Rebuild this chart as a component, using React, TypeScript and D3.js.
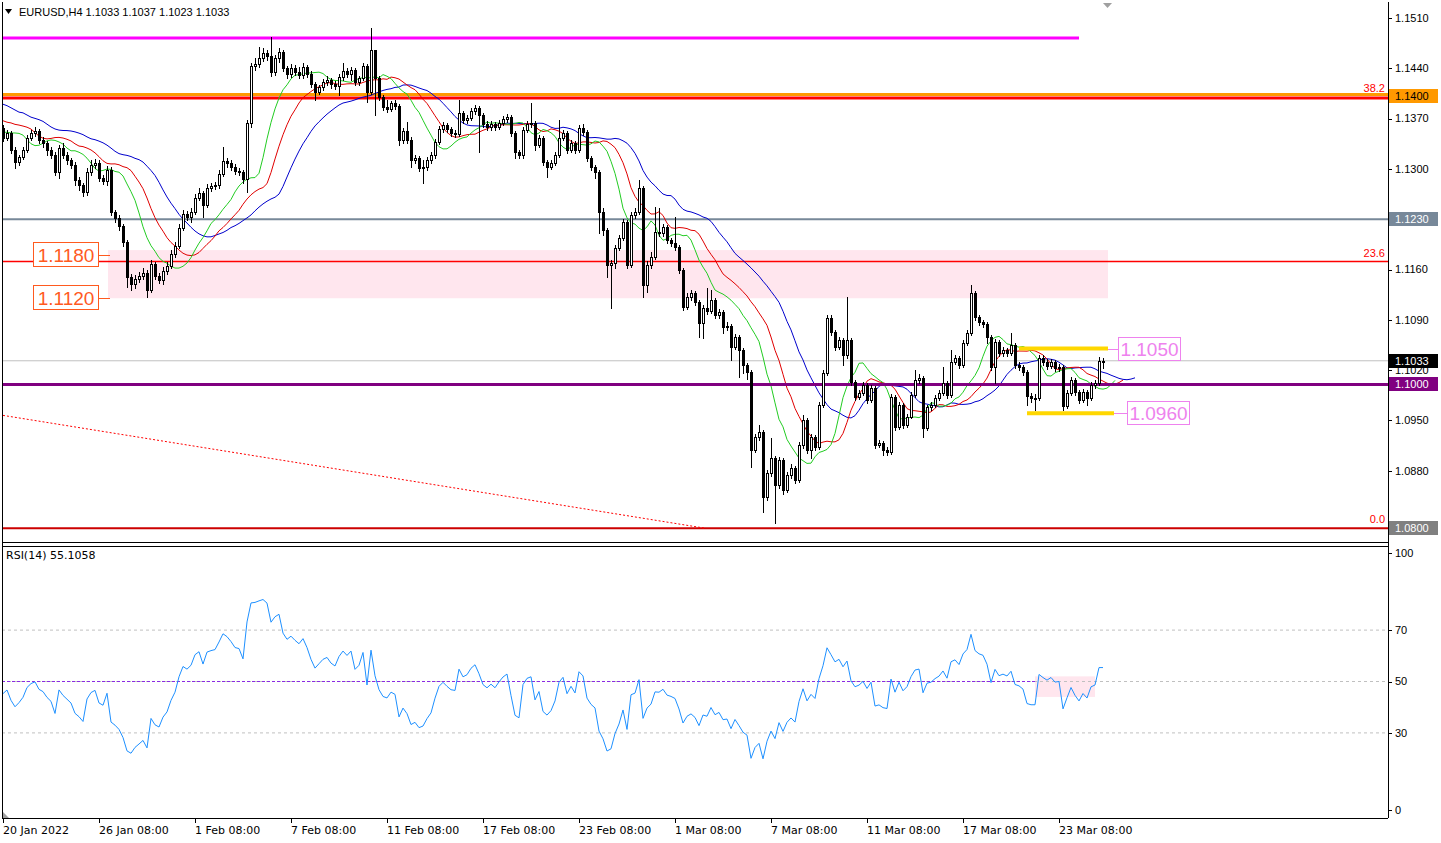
import React from "react";
import * as d3 from "d3";

type HLC = [number, number, number]; // high, low, close

const firstOpen = 1.1357;

const wk20Jan: HLC[] = [
  [1.1361, 1.1339, 1.1343], [1.1354, 1.1340, 1.1350], [1.1353, 1.1322, 1.1326], [1.1330, 1.1301, 1.1310],
  [1.1319, 1.1305, 1.1317], [1.1330, 1.1314, 1.1326], [1.1347, 1.1323, 1.1343], [1.1354, 1.1340, 1.1350],
  [1.1358, 1.1346, 1.1353], [1.1355, 1.1336, 1.1340], [1.1344, 1.1330, 1.1336], [1.1339, 1.1319, 1.1326],
  [1.1330, 1.1315, 1.1319], [1.1323, 1.1291, 1.1296], [1.1333, 1.1287, 1.1329], [1.1336, 1.1315, 1.1319],
  [1.1323, 1.1307, 1.1312], [1.1315, 1.1301, 1.1305], [1.1310, 1.1278, 1.1285], [1.1289, 1.1271, 1.1278],
  [1.1280, 1.1262, 1.1268], [1.1301, 1.1264, 1.1296], [1.1312, 1.1291, 1.1305], [1.1314, 1.1301, 1.1308],
];
const wk26Jan: HLC[] = [
  [1.1312, 1.1283, 1.1287], [1.1291, 1.1279, 1.1283], [1.1304, 1.1278, 1.1298], [1.1303, 1.1236, 1.1240],
  [1.1243, 1.1226, 1.1232], [1.1236, 1.1215, 1.1221], [1.1223, 1.1193, 1.1198], [1.1201, 1.1136, 1.1150],
  [1.1154, 1.1131, 1.1140], [1.1152, 1.1134, 1.1147], [1.1156, 1.1142, 1.1151], [1.1162, 1.1147, 1.1155],
  [1.1159, 1.1122, 1.1131], [1.1173, 1.1129, 1.1168], [1.1170, 1.1147, 1.1151], [1.1155, 1.1141, 1.1145],
  [1.1163, 1.1140, 1.1158], [1.1170, 1.1154, 1.1165], [1.1187, 1.1162, 1.1181], [1.1198, 1.1177, 1.1193],
  [1.1223, 1.1190, 1.1218], [1.1243, 1.1215, 1.1237], [1.1241, 1.1229, 1.1233], [1.1246, 1.1226, 1.1240],
];
const wk1Feb: HLC[] = [
  [1.1265, 1.1237, 1.1260], [1.1273, 1.1257, 1.1266], [1.1269, 1.1233, 1.1250], [1.1279, 1.1247, 1.1273],
  [1.1280, 1.1269, 1.1276], [1.1282, 1.1272, 1.1278], [1.1298, 1.1273, 1.1293], [1.1330, 1.1290, 1.1311],
  [1.1315, 1.1303, 1.1308], [1.1312, 1.1298, 1.1303], [1.1307, 1.1293, 1.1297], [1.1301, 1.1291, 1.1296],
  [1.1298, 1.1280, 1.1286], [1.1368, 1.1268, 1.1364], [1.1447, 1.1359, 1.1443], [1.1454, 1.1438, 1.1446],
  [1.1470, 1.1442, 1.1454], [1.1468, 1.1450, 1.1461], [1.1465, 1.1452, 1.1457], [1.1484, 1.1429, 1.1435],
  [1.1458, 1.1431, 1.1454], [1.1468, 1.1449, 1.1463], [1.1465, 1.1436, 1.1440], [1.1443, 1.1426, 1.1432],
];
const wk7Feb: HLC[] = [
  [1.1446, 1.1428, 1.1440], [1.1445, 1.1431, 1.1435], [1.1442, 1.1426, 1.1431], [1.1447, 1.1426, 1.1442],
  [1.1445, 1.1428, 1.1432], [1.1436, 1.1414, 1.1418], [1.1421, 1.1396, 1.1407], [1.1417, 1.1404, 1.1414],
  [1.1425, 1.1410, 1.1421], [1.1429, 1.1417, 1.1424], [1.1427, 1.1413, 1.1418], [1.1422, 1.1411, 1.1415],
  [1.1432, 1.1403, 1.1428], [1.1447, 1.1424, 1.1436], [1.1440, 1.1428, 1.1432], [1.1442, 1.1424, 1.1438],
  [1.1440, 1.1417, 1.1421], [1.1429, 1.1417, 1.1426], [1.1447, 1.1424, 1.1443], [1.1446, 1.1393, 1.1407],
  [1.1496, 1.1404, 1.1465], [1.1465, 1.1375, 1.1426], [1.1429, 1.1396, 1.1400], [1.1403, 1.1382, 1.1386],
];
const wk11Feb: HLC[] = [
  [1.1396, 1.1379, 1.1383], [1.1394, 1.1381, 1.1392], [1.1396, 1.1383, 1.1388], [1.1390, 1.1333, 1.1340],
  [1.1357, 1.1336, 1.1353], [1.1365, 1.1336, 1.1340], [1.1344, 1.1303, 1.1312], [1.1319, 1.1308, 1.1315],
  [1.1318, 1.1297, 1.1301], [1.1312, 1.1280, 1.1303], [1.1317, 1.1298, 1.1312], [1.1323, 1.1308, 1.1319],
  [1.1342, 1.1315, 1.1338], [1.1360, 1.1335, 1.1355], [1.1365, 1.1351, 1.1361], [1.1364, 1.1351, 1.1355],
  [1.1358, 1.1346, 1.1350], [1.1354, 1.1344, 1.1349], [1.1396, 1.1346, 1.1378], [1.1380, 1.1364, 1.1368],
  [1.1375, 1.1364, 1.1371], [1.1385, 1.1368, 1.1380], [1.1389, 1.1376, 1.1385], [1.1388, 1.1323, 1.1375],
];
const wk17Feb: HLC[] = [
  [1.1378, 1.1358, 1.1362], [1.1367, 1.1354, 1.1358], [1.1367, 1.1354, 1.1362], [1.1365, 1.1354, 1.1358],
  [1.1368, 1.1355, 1.1364], [1.1374, 1.1361, 1.1369], [1.1376, 1.1365, 1.1372], [1.1375, 1.1346, 1.1350],
  [1.1353, 1.1315, 1.1323], [1.1326, 1.1315, 1.1319], [1.1358, 1.1315, 1.1354], [1.1367, 1.1351, 1.1362],
  [1.1392, 1.1358, 1.1364], [1.1367, 1.1326, 1.1333], [1.1347, 1.1330, 1.1343], [1.1346, 1.1305, 1.1310],
  [1.1312, 1.1289, 1.1303], [1.1312, 1.1300, 1.1308], [1.1323, 1.1305, 1.1319], [1.1368, 1.1317, 1.1343],
  [1.1354, 1.1340, 1.1350], [1.1353, 1.1322, 1.1326], [1.1340, 1.1323, 1.1336], [1.1339, 1.1322, 1.1326],
];
const wk23Feb: HLC[] = [
  [1.1361, 1.1323, 1.1357], [1.1362, 1.1347, 1.1351], [1.1354, 1.1311, 1.1315], [1.1318, 1.1298, 1.1303],
  [1.1305, 1.1287, 1.1296], [1.1298, 1.1211, 1.1240], [1.1246, 1.1208, 1.1215], [1.1218, 1.1150, 1.1166],
  [1.1173, 1.1106, 1.1169], [1.1194, 1.1162, 1.1190], [1.1208, 1.1187, 1.1204], [1.1230, 1.1201, 1.1226],
  [1.1229, 1.1162, 1.1166], [1.1240, 1.1163, 1.1236], [1.1246, 1.1232, 1.1240], [1.1285, 1.1237, 1.1273],
  [1.1276, 1.1122, 1.1138], [1.1172, 1.1129, 1.1166], [1.1184, 1.1162, 1.1177], [1.1247, 1.1175, 1.1212],
  [1.1246, 1.1207, 1.1211], [1.1223, 1.1207, 1.1219], [1.1222, 1.1197, 1.1201], [1.1204, 1.1193, 1.1197],
];
const wk1Mar: HLC[] = [
  [1.1233, 1.1187, 1.1191], [1.1194, 1.1155, 1.1159], [1.1162, 1.1104, 1.1108], [1.1127, 1.1105, 1.1122],
  [1.1131, 1.1118, 1.1127], [1.1130, 1.1111, 1.1115], [1.1118, 1.1066, 1.1086], [1.1111, 1.1065, 1.1106],
  [1.1134, 1.1098, 1.1102], [1.1131, 1.1100, 1.1118], [1.1120, 1.1093, 1.1097], [1.1105, 1.1093, 1.1101],
  [1.1104, 1.1072, 1.1080], [1.1087, 1.1076, 1.1081], [1.1084, 1.1034, 1.1052], [1.1070, 1.1049, 1.1066],
  [1.1069, 1.1010, 1.1048], [1.1051, 1.1016, 1.1027], [1.1030, 1.1008, 1.1017], [1.1020, 1.0885, 1.0909],
  [1.0931, 1.0906, 1.0927], [1.0944, 1.0923, 1.0934], [1.0937, 1.0822, 1.0843], [1.0881, 1.0839, 1.0877],
];
const wk7Mar: HLC[] = [
  [1.0926, 1.0872, 1.0898], [1.0900, 1.0807, 1.0860], [1.0899, 1.0856, 1.0895], [1.0898, 1.0847, 1.0853],
  [1.0878, 1.0850, 1.0874], [1.0889, 1.0870, 1.0884], [1.0887, 1.0863, 1.0867], [1.0920, 1.0864, 1.0916],
  [1.0957, 1.0912, 1.0951], [1.0954, 1.0905, 1.0909], [1.0931, 1.0898, 1.0927], [1.0930, 1.0909, 1.0913],
  [1.0976, 1.0910, 1.0971], [1.1020, 1.0969, 1.1016], [1.1097, 1.1013, 1.1093], [1.1096, 1.1069, 1.1073],
  [1.1076, 1.1048, 1.1052], [1.1066, 1.1049, 1.1062], [1.1065, 1.1027, 1.1041], [1.1122, 1.1037, 1.1062],
  [1.1065, 1.0999, 1.1003], [1.1006, 1.0978, 1.0983], [1.0992, 1.0980, 1.0988], [1.1003, 1.0985, 1.0999],
];
const wk11Mar: HLC[] = [
  [1.1002, 1.0974, 1.0978], [1.0999, 1.0976, 1.0995], [1.0998, 1.0912, 1.0916], [1.0923, 1.0913, 1.0919],
  [1.0921, 1.0902, 1.0909], [1.0913, 1.0902, 1.0906], [1.0987, 1.0903, 1.0983], [1.0985, 1.0937, 1.0941],
  [1.0976, 1.0938, 1.0971], [1.0974, 1.0940, 1.0943], [1.0959, 1.0941, 1.0955], [1.0990, 1.0953, 1.0985],
  [1.1020, 1.0983, 1.1006], [1.1015, 1.1002, 1.1009], [1.1012, 1.0927, 1.0940], [1.0971, 1.0937, 1.0968],
  [1.0976, 1.0964, 1.0971], [1.0985, 1.0969, 1.0981], [1.0992, 1.0978, 1.0988], [1.1024, 1.0985, 1.1002],
  [1.1005, 1.0981, 1.0985], [1.1048, 1.0983, 1.1031], [1.1041, 1.1029, 1.1037], [1.1040, 1.1023, 1.1027],
];
const wk17Mar: HLC[] = [
  [1.1062, 1.1024, 1.1058], [1.1076, 1.1055, 1.1072], [1.1138, 1.1069, 1.1127], [1.1130, 1.1090, 1.1094],
  [1.1097, 1.1083, 1.1087], [1.1090, 1.1080, 1.1084], [1.1087, 1.1058, 1.1066], [1.1069, 1.1020, 1.1024],
  [1.1063, 1.1002, 1.1059], [1.1062, 1.1040, 1.1044], [1.1052, 1.1040, 1.1048], [1.1051, 1.1040, 1.1044],
  [1.1072, 1.1041, 1.1055], [1.1058, 1.1023, 1.1027], [1.1031, 1.1020, 1.1024], [1.1027, 1.1013, 1.1017],
  [1.1020, 1.0971, 1.0984], [1.0988, 1.0976, 1.0981], [1.0987, 1.0964, 1.0981], [1.1041, 1.0978, 1.1037],
  [1.1041, 1.1027, 1.1031], [1.1035, 1.1021, 1.1026], [1.1035, 1.1023, 1.1031], [1.1034, 1.1019, 1.1023],
];
const wk23Mar: HLC[] = [
  [1.1028, 1.1019, 1.1024], [1.1027, 1.0964, 1.0970], [1.0992, 1.0967, 1.0988], [1.1010, 1.0985, 1.1006],
  [1.1009, 1.0985, 1.0990], [1.0992, 1.0974, 1.0978], [1.0994, 1.0976, 1.0990], [1.0992, 1.0971, 1.0981],
  [1.1003, 1.0978, 1.0999], [1.1006, 1.0995, 1.1002], [1.1038, 1.0999, 1.1033], [1.1037, 1.1023, 1.1033],
];

const weeks = [wk20Jan, wk26Jan, wk1Feb, wk7Feb, wk11Feb, wk17Feb, wk23Feb, wk1Mar, wk7Mar, wk11Mar, wk17Mar, wk23Mar];
const timeLabels = ["20 Jan 2022", "26 Jan 08:00", "1 Feb 08:00", "7 Feb 08:00", "11 Feb 08:00", "17 Feb 08:00",
  "23 Feb 08:00", "1 Mar 08:00", "7 Mar 08:00", "11 Mar 08:00", "17 Mar 08:00", "23 Mar 08:00"];

const priceTicks = [1.151, 1.144, 1.137, 1.13, 1.116, 1.109, 1.102, 1.095, 1.088];
const rsiTicks = [100, 70, 50, 30, 0];
const rsiLevels = [70, 50, 30];
// Wilder averages (gain, loss) in force before the first visible bar
const rsiSeed = { gain: 0.0010, loss: 0.0011 };
const rsiZone = { from: 258, to: 273, top: 52, bottom: 44 };

// Alligator values to the left of the first bar
const jawLead = [1.1390, 1.1388, 1.1385, 1.1382, 1.1379, 1.1378, 1.1375, 1.1372];
const teethLead = [1.1367, 1.1365, 1.1364, 1.1362, 1.1361];
const lipsLead = [1.1351, 1.1351, 1.1350];

const fibLevels = [
  { name: "38.2", price: 1.1400 },
  { name: "23.6", price: 1.1171 },
  { name: "0.0", price: 1.0800 },
];
const magentaLevel = 1.1482;
const orangeLevel = 1.1402;
const grayLevel = 1.1230;
const purpleLevel = 1.1000;
const zone = { top: 1.1187, bottom: 1.1120, labels: ["1.1180", "1.1120"], labelPrices: [1.1180, 1.1120] };
const rangeHigh = 1.1050;
const rangeLow = 1.0960;
const lastPrice = 1.1033;
const trendStart = 1.0957;

const FONT = "'DejaVu Sans', Tahoma, sans-serif";
const FONT2 = "'Liberation Sans', Arial, sans-serif";

type Bar = { i: number; o: number; h: number; l: number; c: number };

function buildBars(): Bar[] {
  const out: Bar[] = [];
  let prev = firstOpen;
  let i = 0;
  weeks.forEach((wk) =>
    wk.forEach(([h, l, c]) => {
      const o = prev;
      out.push({ i, o, h: Math.max(h, o, c), l: Math.min(l, o, c), c });
      prev = c;
      i++;
    })
  );
  return out;
}

export default function App() {
  const W = 1441, H = 843;
  const left = 2, right = 1388, mainTop = 2, mainBottom = 542, rsiTop = 546, rsiBottom = 818;
  const bars = buildBars();
  const n = bars.length;
  const x = d3.scaleLinear().domain([0, n - 1]).range([3, 3 + 4 * (n - 1)]);
  const y = d3.scaleLinear().domain([1.08, 1.151]).range([528.2, 18]);
  const yr = d3.scaleLinear().domain([0, 100]).range([810, 553]);

  const med = bars.map((b) => (b.h + b.l) / 2);
  const smma = (lead: number[], period: number) => {
    const pts = lead.map((v, k) => ({ i: k, v }));
    let v = lead[lead.length - 1];
    med.forEach((m, j) => {
      v = (v * (period - 1) + m) / period;
      pts.push({ i: j + lead.length, v });
    });
    return pts;
  };
  const jaw = smma(jawLead, 13);
  const teeth = smma(teethLead, 8);
  const lips = smma(lipsLead, 5);
  const line = d3.line<{ i: number; v: number }>().x((d) => x(d.i)).y((d) => y(d.v));

  // RSI(14), Wilder smoothing
  const rsi: { i: number; v: number }[] = [];
  let ag = rsiSeed.gain, al = rsiSeed.loss;
  bars.forEach((b, i) => {
    const prevC = i === 0 ? b.o : bars[i - 1].c;
    const ch = b.c - prevC;
    const g = Math.max(ch, 0), lo = Math.max(-ch, 0);
    ag = (ag * 13 + g) / 14;
    al = (al * 13 + lo) / 14;
    const v = al === 0 ? 100 : 100 - 100 / (1 + ag / al);
    rsi.push({ i, v });
  });
  const rsiLine = d3.line<{ i: number; v: number }>().x((d) => x(d.i)).y((d) => yr(d.v));

  const fmt = d3.format(".4f");
  const box = (price: number, bg: string, fg: string, txt: string) => {
    const yy = Math.round(y(price));
    return (
      <g key={txt + bg}>
        <rect x={1389} y={yy - 7} width={49} height={14} fill={bg} />
        <text x={1395} y={yy} dy="0.35em" fill={fg} fontSize={11} fontFamily={FONT2}>{txt}</text>
      </g>
    );
  };

  return (
    <svg width={W} height={H} style={{ position: "fixed", left: 0, top: 0, background: "#fff" }}>
      <defs>
        <clipPath id="mainClip">
          <rect x={left} y={mainTop} width={right - left} height={mainBottom - mainTop} />
        </clipPath>
        <clipPath id="rsiClip">
          <rect x={left} y={rsiTop} width={right - left} height={rsiBottom - rsiTop} />
        </clipPath>
      </defs>
      <rect x={0} y={0} width={W} height={H} fill="#fff" />

      {/* main panel */}
      <g clipPath="url(#mainClip)">
        <rect x={108} y={y(zone.top)} width={1000} height={y(zone.bottom) - y(zone.top)} fill="#ffe6ee" />
        <line x1={left} x2={1079} y1={y(magentaLevel)} y2={y(magentaLevel)} stroke="#ff00ff" strokeWidth={3} />
        <line x1={left} x2={right} y1={y(fibLevels[0].price) + 1} y2={y(fibLevels[0].price) + 1} stroke="#ff0000" strokeWidth={3} />
        <line x1={left} x2={right} y1={y(orangeLevel) - 1} y2={y(orangeLevel) - 1} stroke="#ff9900" strokeWidth={3} />
        <line x1={left} x2={right} y1={y(grayLevel)} y2={y(grayLevel)} stroke="#778899" strokeWidth={2} />
        <line x1={left} x2={right} y1={y(fibLevels[1].price)} y2={y(fibLevels[1].price)} stroke="#ff0000" strokeWidth={1.5} />
        <line x1={left} x2={right} y1={y(fibLevels[2].price)} y2={y(fibLevels[2].price)} stroke="#cc0000" strokeWidth={2} />
        <line x1={left} x2={right} y1={y(lastPrice)} y2={y(lastPrice)} stroke="#c0c0c0" strokeWidth={1} />
        <line x1={x(0)} x2={x(175.5)} y1={y(trendStart)} y2={y(fibLevels[2].price)} stroke="#ff0000" strokeWidth={1} strokeDasharray="2,2" />

        <path d={line(jaw) || ""} fill="none" stroke="#0000cc" strokeWidth={1} />
        <path d={line(teeth) || ""} fill="none" stroke="#e00000" strokeWidth={1} />
        <path d={line(lips) || ""} fill="none" stroke="#22cc22" strokeWidth={1} />

        <line x1={left} x2={right} y1={y(purpleLevel)} y2={y(purpleLevel)} stroke="#800080" strokeWidth={3} />

        {bars.map((b) => {
          const cx = Math.round(x(b.i));
          const yh = Math.round(y(b.h)), yl = Math.round(y(b.l));
          const top = Math.round(y(Math.max(b.o, b.c)));
          const bot = Math.round(y(Math.min(b.o, b.c)));
          const bull = b.c > b.o;
          return (
            <g key={b.i} shapeRendering="crispEdges">
              <line x1={cx + 0.5} x2={cx + 0.5} y1={yh} y2={yl + 1} stroke="#000" strokeWidth={1} />
              {bull ? (
                <rect x={cx - 0.5} y={top + 0.5} width={2} height={Math.max(bot - top, 1)} fill="#fff" stroke="#000" strokeWidth={1} />
              ) : (
                <rect x={cx - 1} y={top} width={3} height={Math.max(bot - top, 1) + 1} fill="#000" />
              )}
            </g>
          );
        })}

        <line x1={1019} x2={1108} y1={y(rangeHigh)} y2={y(rangeHigh)} stroke="#ffd700" strokeWidth={4} />
        <line x1={1027} x2={1114} y1={y(rangeLow)} y2={y(rangeLow)} stroke="#ffd700" strokeWidth={4} />
      </g>

      {/* zone labels */}
      {zone.labels.map((t, k) => {
        const yy = Math.round(y(zone.labelPrices[k]));
        return (
          <g key={t}>
            <rect x={33.5} y={yy - 12.5} width={65} height={24} fill="#fff" stroke="#ff5a1f" strokeWidth={1} />
            <line x1={99} x2={110} y1={yy + 0.5} y2={yy + 0.5} stroke="#ff5a1f" />
            <text x={66} y={yy} dy="0.35em" textAnchor="middle" fill="#ff5a1f" fontSize={19} fontFamily={FONT2}>{t}</text>
          </g>
        );
      })}
      {[{ p: rangeHigh, t: "1.1050", x0: 1108, bx: 1118 }, { p: rangeLow, t: "1.0960", x0: 1114, bx: 1127 }].map((d) => {
        const yy = Math.round(y(d.p));
        return (
          <g key={d.t}>
            <line x1={d.x0} x2={d.bx} y1={yy + 0.5} y2={yy + 0.5} stroke="#ee82ee" />
            <rect x={d.bx + 0.5} y={yy - 11.5} width={62} height={23} fill="#fff" stroke="#ee82ee" />
            <text x={d.bx + 31.5} y={yy} dy="0.35em" textAnchor="middle" fill="#ee82ee" fontSize={19} fontFamily={FONT2}>{d.t}</text>
          </g>
        );
      })}
      {fibLevels.map((f) => (
        <text key={f.name} x={1385} y={y(f.price) - 5} textAnchor="end" fill="#ff0000" fontSize={11} fontFamily={FONT2}>{f.name}</text>
      ))}

      {/* header */}
      <path d="M5,9 L12,9 L8.5,14 Z" fill="#000" />
      <text x={19} y={12} dy="0.35em" fontSize={11} fontFamily={FONT2} fill="#000">EURUSD,H4  1.1033 1.1037 1.1023 1.1033</text>
      <path d="M1103,3 L1112,3 L1107.5,8 Z" fill="#a0a0a0" />

      {/* RSI panel */}
      <g clipPath="url(#rsiClip)">
        <rect x={x(rsiZone.from)} y={yr(rsiZone.top)} width={x(rsiZone.to) - x(rsiZone.from)} height={yr(rsiZone.bottom) - yr(rsiZone.top)} fill="#ffe6ee" />
        {rsiLevels.map((lv) => (
          <line key={lv} x1={left} x2={right} y1={yr(lv)} y2={yr(lv)} stroke="#c0c0c0" strokeDasharray="3,3" />
        ))}
        <line x1={left} x2={1035} y1={yr(50)} y2={yr(50)} stroke="#8a2be2" strokeDasharray="3,2" />
        <path d={rsiLine(rsi) || ""} fill="none" stroke="#1e90ff" strokeWidth={1} />
      </g>
      <text x={6} y={555} dy="0.35em" fontSize={11} fontFamily={FONT}>RSI(14) 55.1058</text>

      {/* frames */}
      <g shapeRendering="crispEdges" fill="none" stroke="#000">
        <line x1={left + 0.5} x2={left + 0.5} y1={mainTop} y2={rsiBottom} />
        <line x1={right + 0.5} x2={right + 0.5} y1={mainTop} y2={rsiBottom} />
        <line x1={left} x2={right} y1={mainBottom + 0.5} y2={mainBottom + 0.5} />
        <line x1={left} x2={right} y1={rsiTop + 0.5} y2={rsiTop + 0.5} />
        <line x1={left} x2={right} y1={rsiBottom + 0.5} y2={rsiBottom + 0.5} />
      </g>

      {/* right price axis */}
      {priceTicks.map((p) => (
        <g key={p}>
          <line x1={right} x2={right + 4} y1={Math.round(y(p)) + 0.5} y2={Math.round(y(p)) + 0.5} stroke="#000" />
          <text x={1395} y={y(p)} dy="0.35em" fontSize={11} fontFamily={FONT2}>{fmt(p)}</text>
        </g>
      ))}
      {box(orangeLevel, "#ff9900", "#000", "1.1400")}
      {box(grayLevel, "#778899", "#fff", "1.1230")}
      {box(lastPrice, "#000", "#fff", "1.1033")}
      {box(purpleLevel, "#800080", "#fff", "1.1000")}
      {box(fibLevels[2].price, "#808080", "#fff", "1.0800")}

      {rsiTicks.map((t) => (
        <g key={t}>
          <line x1={right} x2={right + 4} y1={Math.round(yr(t)) + 0.5} y2={Math.round(yr(t)) + 0.5} stroke="#000" />
          <text x={1395} y={yr(t)} dy="0.35em" fontSize={11} fontFamily={FONT2}>{t}</text>
        </g>
      ))}

      {/* time axis */}
      {timeLabels.map((t, k) => {
        const xx = Math.round(x(k * 24));
        return (
          <g key={t}>
            <line x1={xx + 0.5} x2={xx + 0.5} y1={rsiBottom} y2={rsiBottom + 5} stroke="#000" />
            <text x={xx} y={830} dy="0.35em" fontSize={11} fontFamily={FONT}>{t}</text>
          </g>
        );
      })}
      <path d="M3,812 L3,818 L9,818 Z" fill="#a0a0a0" />
    </svg>
  );
}
